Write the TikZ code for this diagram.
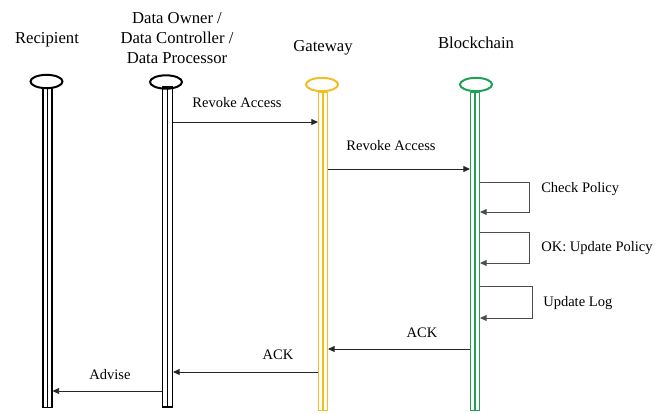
\documentclass[tikz,border=0pt]{standalone}
\usepackage{fontspec}
\setmainfont{Liberation Serif}
\newfontfamily\tnr{Liberation Serif}
\usetikzlibrary{arrows.meta,shapes.geometric}
\definecolor{gold}{HTML}{F2BE22}
\definecolor{bgreen}{HTML}{1FA055}
\begin{document}
\begin{tikzpicture}[x=0.75pt,y=-0.75pt,
  head/.style={ellipse,draw=#1,line width=1.5pt,minimum width=24pt,minimum height=10pt,inner sep=0pt},
  lifebar/.style={rectangle,draw=#1,line width=0.8pt,minimum width=6.75pt,inner sep=0pt,
    path picture={\draw[#1,line width=0.8pt] (path picture bounding box.north)--(path picture bounding box.south);}},
  title/.style={font=\tnr\fontsize{12.5}{15}\selectfont,align=center,inner sep=0pt},
  lbl/.style={font=\tnr\fontsize{10.9}{13}\selectfont,inner sep=0pt},
  msg/.style={draw=black!85,line width=0.7pt,-{Triangle[length=5pt,width=4.5pt]}},
  selfloop/.style={draw=black!70,line width=0.7pt,-{Triangle[length=5pt,width=4.5pt]}}]
\useasboundingbox (0,0) rectangle (665,414);

% titles
\node[title] (t1) at (47,40) {Recipient};
\node[title] (t2) at (177,38) {Data Owner /\\Data Controller /\\Data Processor};
\node[title] (t3) at (323,48) {Gateway};
\node[title] (t4) at (476,43) {Blockchain};

% heads
\node[head=black] (h1) at (46.5,81.5) {};
\node[head=black] (h2) at (166,82) {};
\node[head=gold] (h3) at (322,84.5) {};
\node[head=bgreen] (h4) at (476,84.5) {};

% lifelines
\node[lifebar=black,minimum height=240pt] (b1) at (47.5,247.5) {};
\node[lifebar=black,minimum width=7.5pt,minimum height=240pt] (b2) at (167.5,247) {};
\node[lifebar=gold,minimum height=238.5pt] (b3) at (323,251.5) {};
\node[lifebar=bgreen,minimum height=238.5pt] (b4) at (475,251.5) {};

% messages
\draw[msg] (b2.east |- 0,122) -- (b3.west |- 0,122);
\node[lbl] (l1) at (237,103) {Revoke Access};

\draw[msg] (b3.east |- 0,169) -- (b4.west |- 0,169);
\node[lbl] (l2) at (391,146) {Revoke Access};

\draw[selfloop] (b4.east |- 0,182) -- (529,182) -- (529,212) -- (b4.east |- 0,212);
\node[lbl,anchor=west] (l3) at (541,189) {Check Policy};

\draw[selfloop] (b4.east |- 0,232) -- (529,232) -- (529,263) -- (b4.east |- 0,263);
\node[lbl,anchor=west] (l4) at (541,248) {OK: Update Policy};

\draw[selfloop] (b4.east |- 0,286) -- (532,286) -- (532,318) -- (b4.east |- 0,318);
\node[lbl,anchor=west] (l5) at (543,303) {Update Log};

\draw[msg] (b4.west |- 0,349) -- (b3.east |- 0,349);
\node[lbl] (l6) at (422,333) {ACK};

\draw[msg] (b3.west |- 0,372) -- (b2.east |- 0,372);
\node[lbl] (l7) at (278,355) {ACK};

\draw[msg] (b2.west |- 0,391) -- (b1.east |- 0,391);
\node[lbl] (l8) at (110,375) {Advise};
\end{tikzpicture}
\end{document}
